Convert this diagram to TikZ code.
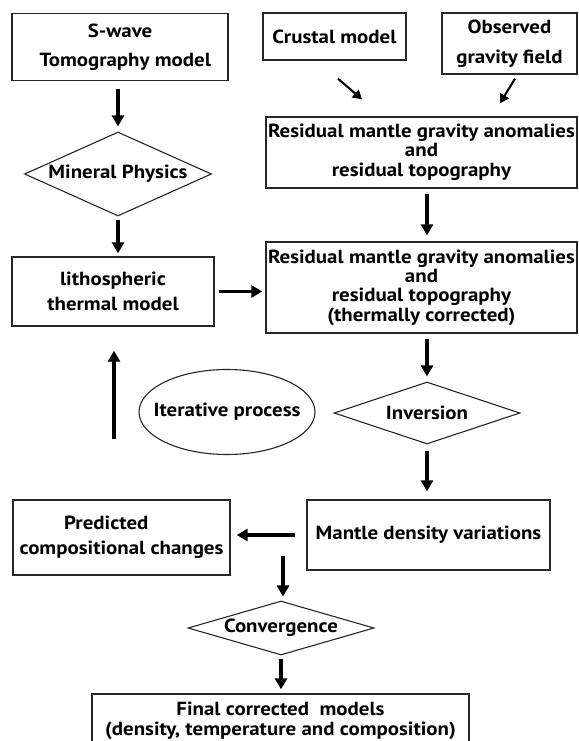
\documentclass[tikz,border=0pt]{standalone}
\usepackage{fontspec}
\setmainfont{PT Sans}[FakeStretch=1.1]
\usetikzlibrary{shapes.geometric,arrows.meta}
\begin{document}
\begin{tikzpicture}[x=1pt,y=-1pt,
  every node/.style={font=\fontsize{19}{20}\selectfont\bfseries, align=center},
  box/.style={draw=black!85, line width=1.4pt, rectangle, inner sep=0pt},
  dia/.style={draw=black!85, line width=1.1pt, diamond, inner sep=0pt},
  oval/.style={draw=black!85, line width=1.1pt, ellipse, inner sep=0pt},
  arr/.style={line width=3.1pt, -{Triangle[width=12pt,length=11pt]}},
  arrthin/.style={line width=2.1pt, -{Triangle[width=10pt,length=9pt]}}
]
\useasboundingbox (0,0) rectangle (578,741);
\begin{scope}
\clip (0,0) rectangle (578,741);

% boxes
\node[box, minimum width=216pt, minimum height=67pt] (swave) at (120,47) {S-wave\\[9pt]\ \ Tomography model};
\node[box, minimum width=143pt, minimum height=47pt] (crustal) at (334.5,36.5) {Crustal model};
\node[box, minimum width=135pt, minimum height=61pt] (observed) at (509.5,43.5) {Observed\\[10pt]gravity field};
\node[dia, minimum width=187pt, minimum height=84pt] (mineral) at (118,174) {\makebox[0pt]{Mineral Physics}};
\node[box, minimum width=311pt, minimum height=71pt] (res1) at (421.5,152.5) {Residual mantle gravity anomalies\\[-1pt]and\\[0pt]residual topography};
\node[box, minimum width=202pt, minimum height=69pt] (litho) at (113,291.5) {\rule{0pt}{6pt}lithospheric\\[5pt]thermal model};
\node[box, minimum width=311pt, minimum height=91pt] (res2) at (421.5,287.5) {Residual mantle gravity anomalies\\[-1pt]and\\[-1pt]residual topography\\[0pt](thermally corrected)};
\node[oval, minimum width=176pt, minimum height=85pt] (iter) at (227,412) {\makebox[0pt]{Iterative process}};
\node[dia, minimum width=186pt, minimum height=62pt] (inv) at (427,413) {\makebox[0pt]{Inversion}};
\node[box, minimum width=243pt, minimum height=70pt] (mantle) at (428.5,535) {Mantle density variations};
\node[box, minimum width=217pt, minimum height=75pt] (pred) at (121.5,537.5) {Predicted\hspace*{1.6em}\\[5pt]compositional changes};
\node[dia, minimum width=186pt, minimum height=54pt] (conv) at (281,628) {\makebox[0pt]{Convergence}};
\node[box, minimum width=377pt, minimum height=60pt] (final) at (280.5,724) {};
\node (finaltext) at (280.5,721) {Final corrected\ \ models\\(density, temperature and composition)};

% connectors
\draw[arr, shorten <=8pt, shorten >=5pt] (swave.south -| mineral.north) -- (mineral.north);
\draw[arr, shorten <=3pt, shorten >=3pt] (mineral.south) -- (mineral.south |- litho.north);
\draw[arr, shorten <=4pt, shorten >=3pt] (litho.east) -- (litho.east -| res2.west);
\draw[arrthin] ([shift={(3.5,18)}]crustal.south) -- ([shift={(-59.5,-17)}]res1.north);
\draw[arrthin] ([shift={(5.5,4)}]observed.south) -- ([shift={(78.5,-13)}]res1.north);
\draw[arr, shorten <=5pt, shorten >=6pt] (res1.south -| inv.north) -- (res2.north -| inv.north);
\draw[arr, shorten <=5pt, shorten >=5pt] (res2.south -| inv.north) -- (inv.north);
\draw[arr, shorten <=6pt, shorten >=8pt] (inv.south) -- (inv.south |- mantle.north);
\draw[arr] ([shift={(1,112)}]litho.south) -- ([shift={(1,24)}]litho.south);
\draw[arr, shorten <=11pt, shorten >=6pt] (mantle.west) -- (mantle.west -| pred.east);
\draw[arr, shorten >=4pt] ([shift={(2,-44)}]conv.north) -- ([shift={(2,0)}]conv.north);
\draw[arr, shorten <=3pt, shorten >=4pt] (conv.south) -- (conv.south |- final.north);
\end{scope}
\end{tikzpicture}
\end{document}
